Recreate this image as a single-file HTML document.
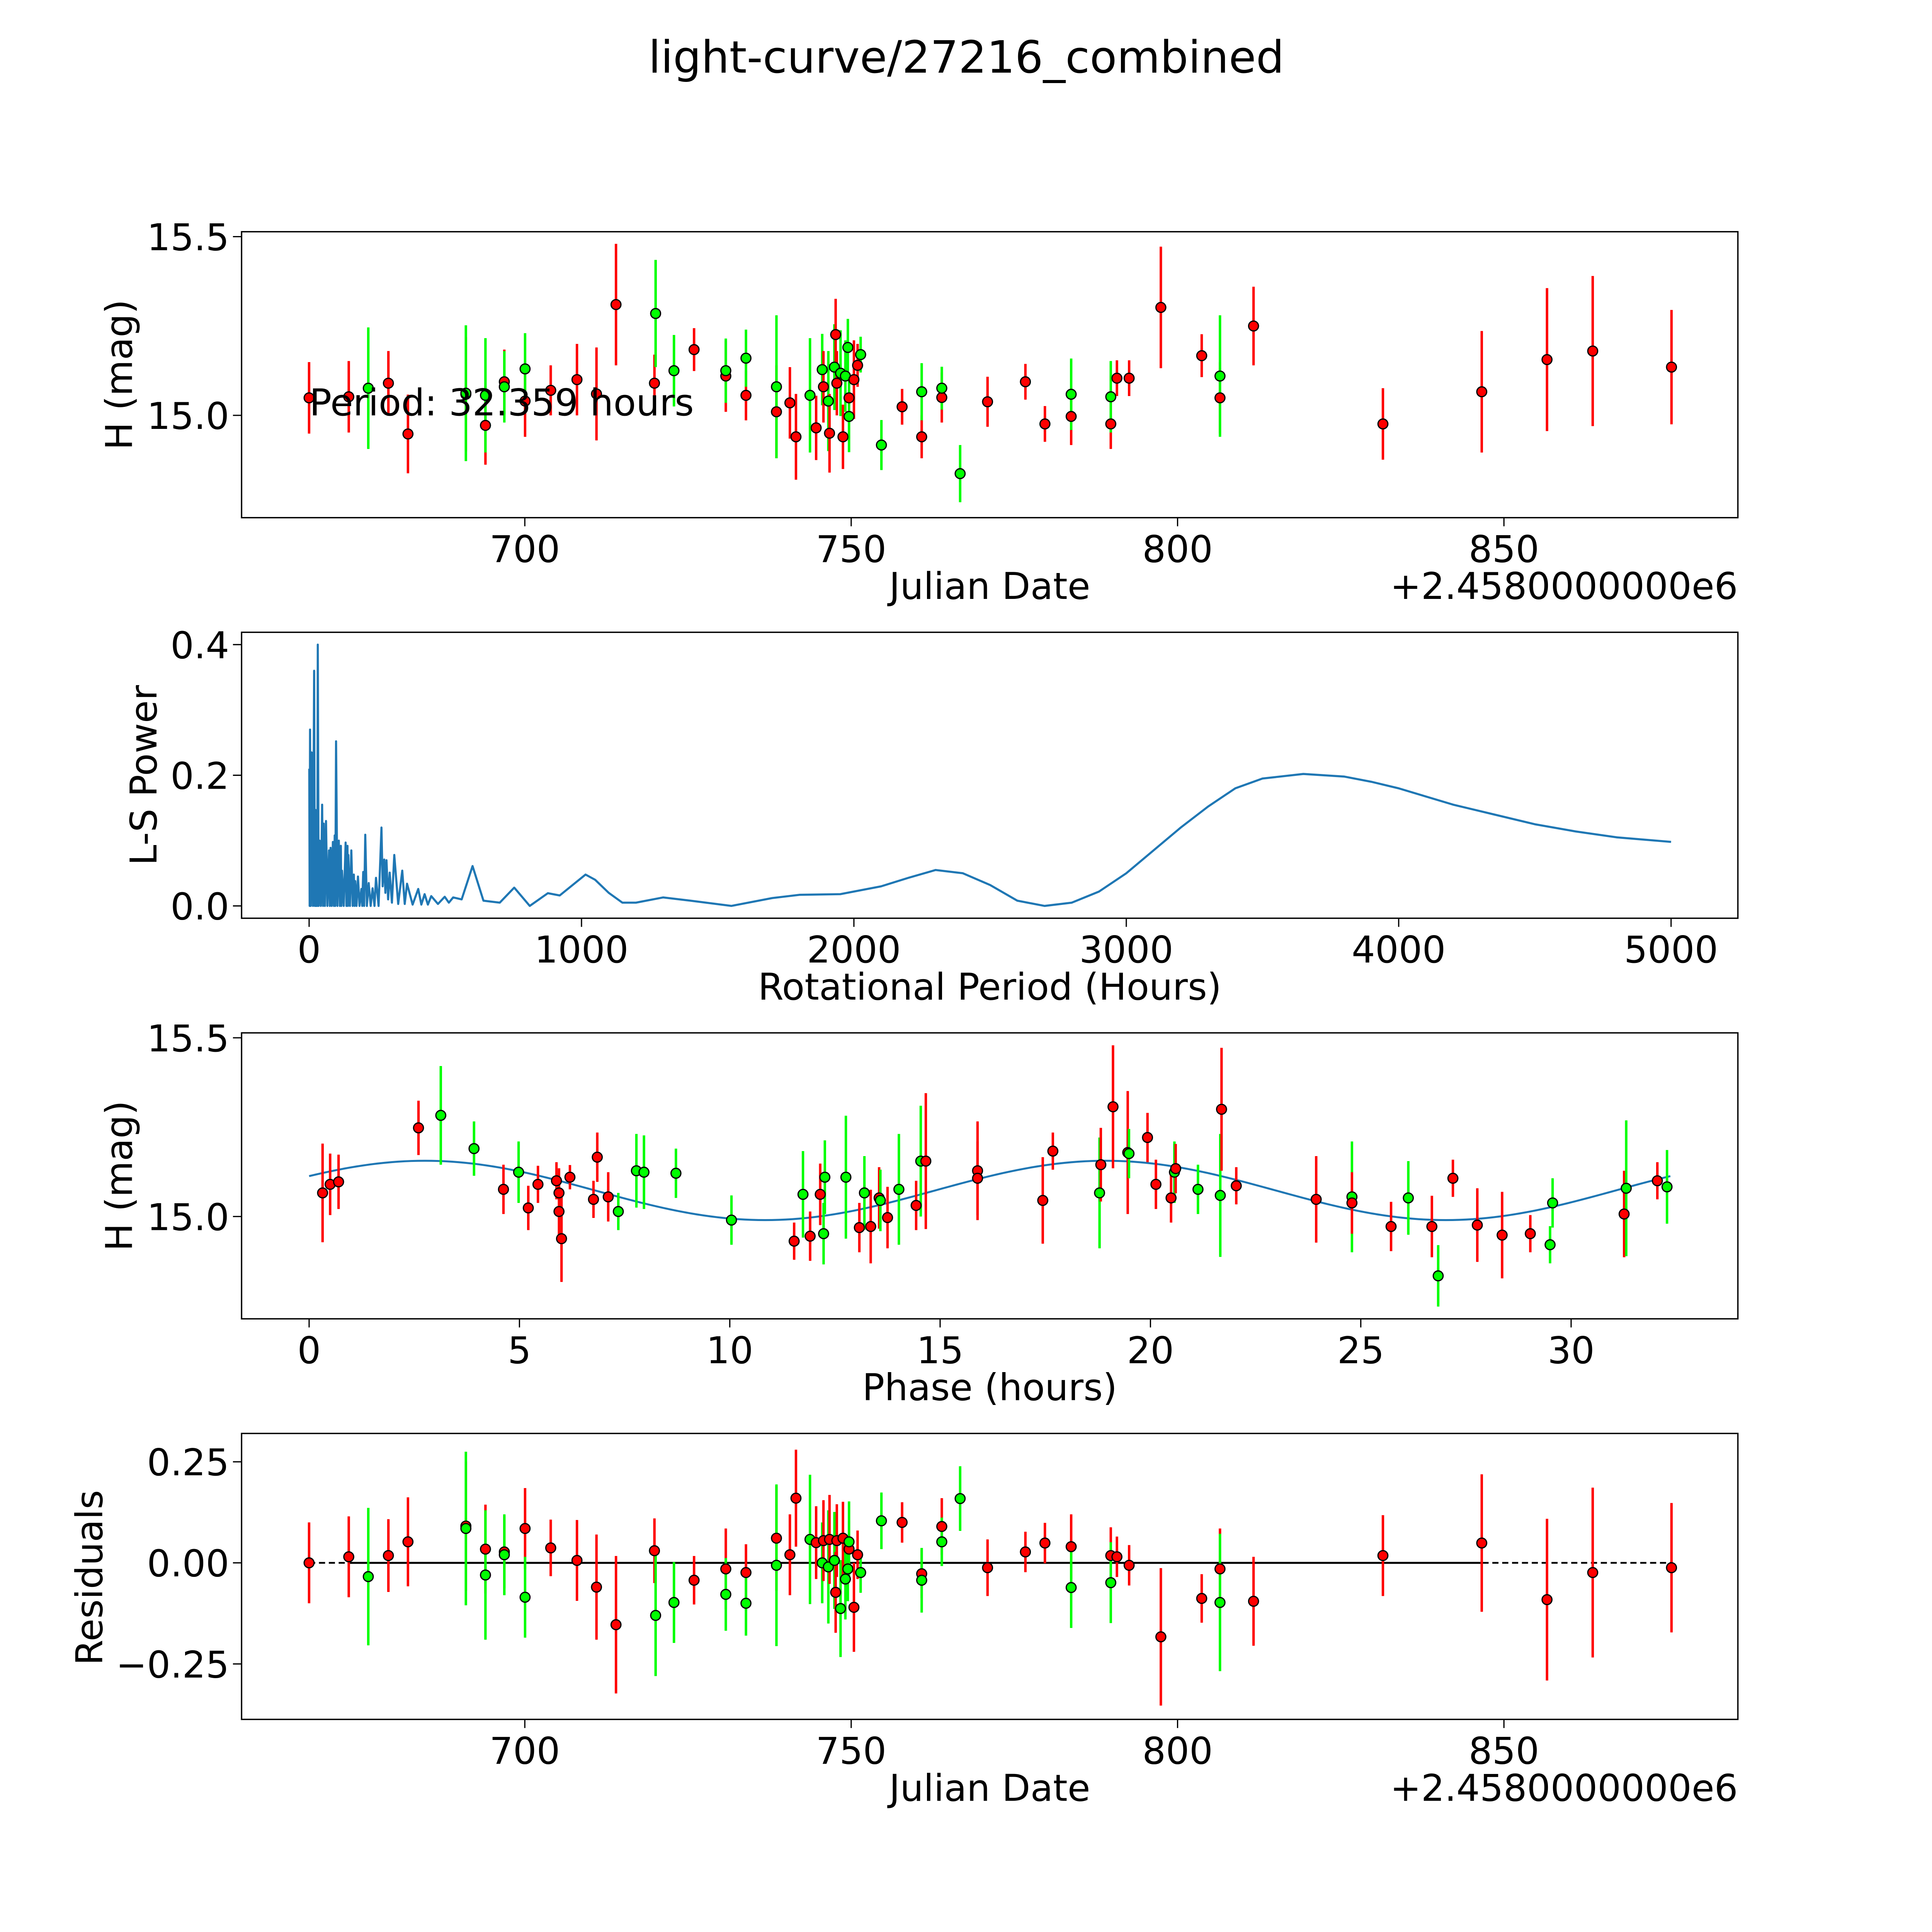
<!DOCTYPE html>
<html><head><meta charset="utf-8"><style>
html,body{margin:0;padding:0;background:#fff;overflow:hidden}
#fig{position:absolute;left:0;top:0;width:100vw;height:100vw;display:block}
text{font-family:"DejaVu Sans","Liberation Sans",sans-serif;fill:#000}
</style></head><body>
<svg id="fig" viewBox="0 0 1567.5 1567.5" preserveAspectRatio="xMinYMin meet" xmlns="http://www.w3.org/2000/svg">
<rect width="1567.5" height="1567.5" fill="#fff"/>
<text x="784" y="59" font-size="36" text-anchor="middle">light-curve/27216_combined</text>
<g id="g1"></g>
<g id="g2"></g>
<g id="g3"></g>
<g id="g4"></g>
</svg>
<script>
// ---- data ----
const jd = [666.95,673.03,676.02,679.1,682.1,690.97,690.97,693.97,693.97,696.86,696.86,700.04,700.04,703.97,707.99,710.98,713.97,719.86,720.04,722.85,725.93,730.79,730.79,733.88,733.88,738.55,738.55,740.61,741.54,743.69,744.63,745.56,745.75,746.5,746.68,747.43,747.62,747.8,748.37,748.74,749.11,749.49,749.67,749.67,750.42,750.98,751.45,754.63,757.8,760.8,760.8,763.88,763.88,766.69,770.89,776.69,779.68,783.7,783.7,789.77,789.77,790.71,792.58,797.44,803.7,806.5,806.5,811.64,831.46,846.6,856.6,863.6,875.67];
const mag = [15.049,15.052,15.076,15.090,14.948,15.059,15.062,14.972,15.056,15.094,15.080,15.040,15.130,15.070,15.100,15.060,15.310,15.090,15.285,15.125,15.184,15.110,15.125,15.056,15.160,15.010,15.080,15.035,14.940,15.056,14.965,15.128,15.080,15.040,14.950,15.135,15.226,15.090,15.118,14.940,15.110,15.190,15.049,14.997,15.100,15.140,15.170,14.917,15.024,14.940,15.066,15.050,15.076,14.837,15.038,15.094,14.976,14.997,15.059,14.976,15.052,15.104,15.104,15.302,15.167,15.049,15.110,15.250,14.976,15.066,15.156,15.180,15.135];
const magErr = [0.10,0.10,0.17,0.09,0.11,0.16,0.19,0.11,0.16,0.09,0.10,0.10,0.10,0.07,0.10,0.13,0.17,0.08,0.15,0.10,0.06,0.10,0.09,0.07,0.08,0.13,0.20,0.10,0.12,0.16,0.09,0.10,0.10,0.14,0.11,0.12,0.10,0.09,0.12,0.09,0.10,0.08,0.07,0.10,0.11,0.06,0.05,0.07,0.05,0.06,0.08,0.07,0.06,0.08,0.07,0.05,0.05,0.08,0.10,0.07,0.10,0.05,0.05,0.17,0.06,0.10,0.17,0.11,0.10,0.17,0.20,0.21,0.16];
const resid = [0.00,0.015,-0.034,0.018,0.052,0.091,0.085,0.034,-0.030,0.027,0.020,0.085,-0.085,0.037,0.006,-0.060,-0.153,0.030,-0.130,-0.098,-0.043,-0.015,-0.078,-0.024,-0.100,0.061,-0.006,0.020,0.160,0.058,0.050,0.000,0.055,-0.010,0.058,0.006,-0.073,0.055,-0.113,0.061,-0.040,-0.015,0.034,0.052,-0.110,0.020,-0.024,0.104,0.100,-0.027,-0.043,0.090,0.052,0.159,-0.012,0.027,0.049,0.040,-0.061,0.018,-0.049,0.015,-0.006,-0.183,-0.088,-0.015,-0.098,-0.095,0.018,0.049,-0.091,-0.024,-0.012];
const band = ["r","r","g","r","r","r","g","r","g","r","g","r","g","r","r","r","r","r","g","g","r","r","g","r","g","r","g","r","r","g","r","g","r","g","r","g","r","r","g","r","g","g","r","g","r","r","g","g","r","r","g","r","g","g","r","r","r","r","g","r","g","r","r","r","r","r","g","r","r","r","r","r","r"];

const phase = [0.32,0.50,0.70,2.60,3.13,3.92,4.62,4.98,5.21,5.44,5.88,5.94,5.94,6.00,6.20,6.76,6.85,7.11,7.35,7.78,7.96,8.72,10.04,11.53,11.74,11.91,12.15,12.23,12.26,12.76,13.08,13.20,13.35,13.55,13.58,13.75,14.02,14.43,14.54,14.66,15.89,15.89,17.44,17.68,18.79,18.82,19.11,19.46,19.49,19.93,20.13,20.49,20.57,20.60,21.13,21.66,21.69,22.04,23.94,24.79,24.79,25.72,26.13,26.69,26.84,27.19,27.77,28.36,29.03,29.50,29.56,31.26,31.31,32.05,32.28];
const phaseMag = [15.066,15.090,15.097,15.248,15.283,15.190,15.076,15.124,15.024,15.090,15.100,15.066,15.014,14.938,15.110,15.048,15.166,15.055,15.014,15.128,15.124,15.121,14.990,14.931,15.062,14.945,15.062,14.952,15.110,15.110,14.969,15.066,14.972,15.052,15.045,14.997,15.076,15.031,15.155,15.155,15.128,15.107,15.045,15.183,15.066,15.145,15.307,15.179,15.176,15.221,15.090,15.052,15.124,15.134,15.076,15.059,15.300,15.086,15.048,15.055,15.038,14.972,15.052,14.972,14.834,15.107,14.976,14.948,14.952,14.921,15.038,15.007,15.079,15.100,15.083];
const phaseErr = [0.138,0.086,0.076,0.076,0.138,0.076,0.069,0.086,0.062,0.052,0.052,0.069,0.086,0.121,0.034,0.052,0.069,0.069,0.052,0.103,0.103,0.069,0.069,0.052,0.121,0.069,0.086,0.086,0.103,0.172,0.069,0.103,0.103,0.086,0.086,0.086,0.155,0.069,0.155,0.190,0.138,0.103,0.121,0.052,0.155,0.103,0.172,0.172,0.069,0.069,0.069,0.069,0.086,0.069,0.069,0.172,0.172,0.052,0.121,0.155,0.086,0.069,0.103,0.086,0.086,0.052,0.103,0.121,0.052,0.052,0.069,0.121,0.190,0.052,0.103];
const phaseBand = ["r","r","r","r","g","g","r","g","r","r","r","r","r","r","r","r","r","r","g","g","g","g","g","r","g","r","r","g","g","g","r","g","r","r","g","r","g","r","g","r","r","r","r","r","g","r","r","r","g","r","r","r","g","r","g","g","r","r","r","g","r","r","g","r","g","r","r","r","r","g","g","r","g","r","g"];

const fitMean = 15.073, fitAmp = 0.083, fitPeak = 2.75, period = 32.359;

const lsPeriod = [0.5,2,3.4,6,9.2,14,18.4,21,23.5,25.5,27.7,30,31.8,35,38.5,43,47.8,51,53.6,58,62,67,72.9,76,78.8,83,87.2,91,93.9,96,98.9,104,109,113,116.5,118.5,120.7,127,134,137,140.8,142.5,144.1,150,155,160,164.2,167,169.3,174,179.3,185,191.9,195,198.6,202,206.1,212,218.7,226,233,240,245.5,255,265.6,270,275.7,280,284,290,295.8,304,312.6,327,341.9,351,359.5,380,400.6,412,424,436,448.3,473,497.8,513,528.8,560,600,640,700,753,810,876.5,920,1014.8,1050,1100,1150,1200,1300,1400,1550,1700,1800,1950,2100,2200,2300,2400,2500,2600,2700,2800,2900,3000,3100,3200,3300,3400,3500,3650,3800,3900,4000,4200,4350,4500,4650,4800,5000];
const lsPower = [0.21,0,0.27,0,0.235,0,0.36,0,0.147,0,0.136,0,0.40,0,0.10,0,0.155,0,0.126,0,0.13,0,0.085,0,0.089,0,0.098,0,0.108,0,0.252,0,0.10,0,0.092,0,0.054,0,0.097,0,0.092,0,0.078,0,0.085,0,0.048,0,0.038,0,0.045,0,0.026,0,0.052,0,0.109,0,0.035,0,0.027,0,0.043,0,0.12,0.03,0.071,0.02,0.07,0.01,0.051,0.005,0.078,0.003,0.054,0.003,0.034,0.002,0.026,0.002,0.018,0.002,0.015,0.003,0.014,0.005,0.013,0.01,0.061,0.008,0.005,0.028,0.0,0.0195,0.016,0.048,0.04,0.02,0.005,0.005,0.013,0.008,0.0,0.012,0.017,0.018,0.03,0.043,0.055,0.05,0.032,0.008,0.0,0.005,0.022,0.05,0.085,0.12,0.152,0.18,0.195,0.202,0.198,0.19,0.18,0.155,0.14,0.125,0.114,0.105,0.098];

const xTicksJD = [700,750,800,850];
const yTicksMag = [15.0,15.5];
const xTicksLS = [0,1000,2000,3000,4000,5000];
const yTicksLS = [0.0,0.2,0.4];
const xTicksPh = [0,5,10,15,20,25,30];
const yTicksRes = [-0.25,0,0.25];
const yTickResLabels = ["\u22120.25","0.00","0.25"];

// ---- helpers ----
const NS = "http://www.w3.org/2000/svg";
function mk(parent, tag, attrs){
  const e = document.createElementNS(NS, tag);
  for (const k in attrs) e.setAttribute(k, attrs[k]);
  parent.appendChild(e); return e;
}
const L = 196, R = 1410;
const xJD = v => 425.8 + (v - 700) * 5.296;
const y1 = v => 337 - (v - 15) * 290;
const xLS = v => 250.8 + v * 0.221;
const y2 = v => 735 - v * 530;
const xPh = v => 250.8 + v * 34.13;
const y3 = v => 987 - (v - 15) * 290;
const y4 = v => 1268 - v * 328;
const colr = b => b === "r" ? "#ff0000" : "#00ff00";
const TF = 30, AF = 30;

function frame(g, top, bot){
  const r = mk(g, "rect", {x:L, y:top, width:R-L, height:bot-top, fill:"none", stroke:"#000", "stroke-width":1.1});
  
  
}
function xtick(g, x, bot, label){
  mk(g, "line", {x1:x, x2:x, y1:bot, y2:bot+7, stroke:"#000", "stroke-width":1});
  const t = mk(g, "text", {x:x, y:bot+36, "font-size":TF, "text-anchor":"middle"});
  t.textContent = label;
  
  
}
function ytick(g, y, label){
  mk(g, "line", {x1:L-7, x2:L, y1:y, y2:y, stroke:"#000", "stroke-width":1});
  const t = mk(g, "text", {x:L-10, y:y+11, "font-size":TF, "text-anchor":"end"});
  t.textContent = label;
  
  
}
function label(g, x, y, txt, name, rot, anchor, fs){
  const t = mk(g, "text", {x:x, y:y, "font-size":fs||AF, "text-anchor":anchor||"middle"});
  if (rot) t.setAttribute("transform", "rotate(-90 "+x+" "+y+")");
  t.textContent = txt;
  
  
}
function points(g, xs, ys, es, bands, fx, fy, scale){
  const gb = mk(g, "g", {});
  xs.forEach((v,i)=>{
    const x = fx(v), y = fy(ys[i]), e = es[i]*scale;
    const ln = mk(gb, "line", {x1:x, x2:x, y1:y-e, y2:y+e, stroke:colr(bands[i]), "stroke-width":2});
    
    
  });
  xs.forEach((v,i)=>{
    const c = mk(gb, "circle", {cx:fx(v), cy:fy(ys[i]), r:4, fill:colr(bands[i]), stroke:"#000", "stroke-width":1});
    
    
  });
}

// ---- panel 1 ----
const g1 = document.getElementById("g1");
frame(g1, 188, 420);
xTicksJD.forEach(v=>xtick(g1, xJD(v), 420, String(v)));
yTicksMag.forEach(v=>ytick(g1, y1(v), v.toFixed(1)));
points(g1, jd, mag, magErr, band, xJD, y1, 290);
label(g1, 107, 304, "H (mag)", "y-axis-title", true);
label(g1, 803, 486, "Julian Date", "x-axis-title");
label(g1, 1410, 486, "+2.4580000000e6", "x-axis-offset", false, "end");
label(g1, 251, 337, "Period: 32.359 hours", "period-annotation", false, "start", 30);

// ---- panel 2 ----
const g2 = document.getElementById("g2");
frame(g2, 513, 745);
xTicksLS.forEach(v=>xtick(g2, xLS(v), 745, String(v)));
yTicksLS.forEach(v=>ytick(g2, y2(v), v.toFixed(1)));
const pl = mk(g2, "polyline", {points: lsPeriod.map((p,i)=>xLS(p)+","+y2(lsPower[i])).join(" "), fill:"none", stroke:"#1f77b4", "stroke-width":1.7, "stroke-linejoin":"round"});


label(g2, 127, 629, "L-S Power", "y-axis-title", true);
label(g2, 803, 811, "Rotational Period (Hours)", "x-axis-title");

// ---- panel 3 ----
const g3 = document.getElementById("g3");
frame(g3, 838, 1070);
xTicksPh.forEach(v=>xtick(g3, xPh(v), 1070, String(v)));
yTicksMag.forEach(v=>ytick(g3, y3(v), v.toFixed(1)));
const fitPts = [];
for (let i=0;i<=200;i++){ const p = period*i/200; fitPts.push(xPh(p)+","+y3(fitMean + fitAmp*Math.cos(4*Math.PI*(p-fitPeak)/period))); }
const fl = mk(g3, "polyline", {points: fitPts.join(" "), fill:"none", stroke:"#1f77b4", "stroke-width":1.6});


points(g3, phase, phaseMag, phaseErr, phaseBand, xPh, y3, 290);
label(g3, 107, 954, "H (mag)", "y-axis-title", true);
label(g3, 803, 1136, "Phase (hours)", "x-axis-title");

// ---- panel 4 ----
const g4 = document.getElementById("g4");
frame(g4, 1163, 1395);
xTicksJD.forEach(v=>xtick(g4, xJD(v), 1395, String(v)));
yTicksRes.forEach((v,i)=>ytick(g4, y4(v), yTickResLabels[i]));
const dl = mk(g4, "line", {x1:xJD(jd[0]), x2:xJD(jd[jd.length-1]), y1:y4(0), y2:y4(0), stroke:"#000", "stroke-width":1.4, "stroke-dasharray":"5,3"});


const sl = mk(g4, "line", {x1:xJD(673.03), x2:xJD(846.6), y1:y4(0), y2:y4(0), stroke:"#000", "stroke-width":1.6});


points(g4, jd, resid, magErr, band, xJD, y4, 328);
label(g4, 83, 1280, "Residuals", "y-axis-title", true);
label(g4, 803, 1461, "Julian Date", "x-axis-title");
label(g4, 1410, 1461, "+2.4580000000e6", "x-axis-offset", false, "end");
</script>
</body></html>
